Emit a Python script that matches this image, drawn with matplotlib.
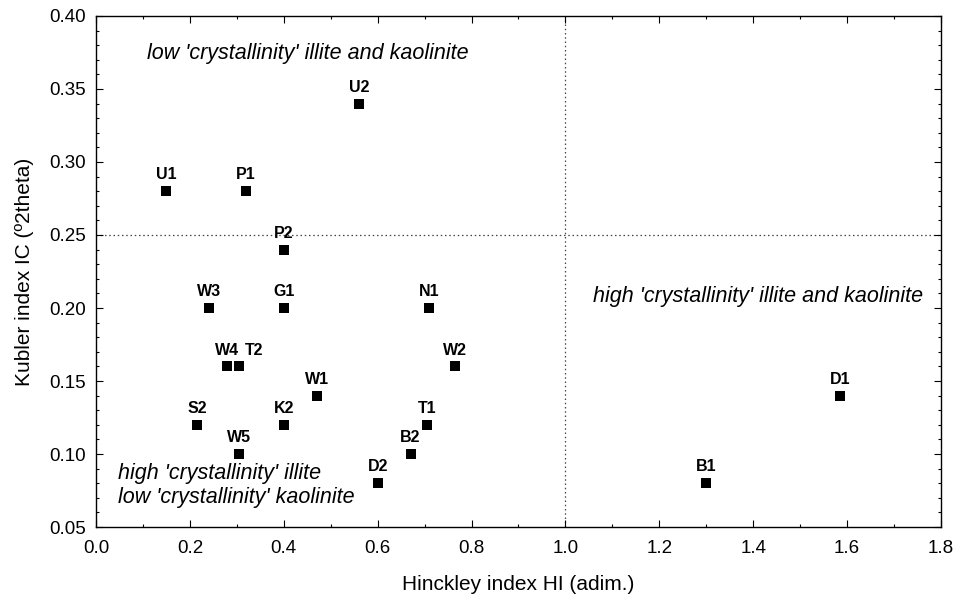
import matplotlib
matplotlib.use("Agg")
import matplotlib.pyplot as plt
from matplotlib.ticker import MultipleLocator

plt.rcParams['font.family'] = ['Liberation Sans', 'DejaVu Sans']

# sample names and indices
samples = ['U1', 'P1', 'U2', 'P2', 'W3', 'G1', 'N1', 'W4', 'T2', 'W2',
           'W1', 'S2', 'K2', 'T1', 'W5', 'B2', 'D2', 'B1', 'D1']
hi = [0.15, 0.32, 0.56, 0.40, 0.24, 0.40, 0.71, 0.28, 0.305, 0.765,
      0.47, 0.215, 0.40, 0.705, 0.305, 0.67, 0.60, 1.30, 1.585]
ic = [0.28, 0.28, 0.34, 0.24, 0.20, 0.20, 0.20, 0.16, 0.16, 0.16,
      0.14, 0.12, 0.12, 0.12, 0.10, 0.10, 0.08, 0.08, 0.14]

hi_limit = 1.0
ic_limit = 0.25

fig = plt.figure(figsize=(9.59, 6.01), dpi=100)
ax = fig.add_axes([0.1001, 0.1231, 0.8811, 0.8503])

ax.scatter(hi, ic, marker='s', s=48, color='black', zorder=3, linewidths=0)

for name, x, y in zip(samples, hi, ic):
    dx = 11 if name == 'T2' else 0   # T2 label sits to the right of W4
    ax.annotate(name, (x, y), xytext=(dx, 8.5), textcoords='offset points',
                ha='center', va='baseline', fontsize=11.5, fontweight='bold')

####limit lines##############
ax.axvline(hi_limit, color='#444444', lw=0.9, ls=(0, (1.2, 2.2)), zorder=1)
ax.axhline(ic_limit, color='#444444', lw=0.9, ls=(0, (1.2, 2.2)), zorder=1)

####field names##############
ax.text(0.108, 0.374, "low 'crystallinity' illite and kaolinite",
        style='italic', fontsize=15.5, va='center', ha='left')
ax.text(1.058, 0.208, "high 'crystallinity' illite and kaolinite",
        style='italic', fontsize=15.5, va='center', ha='left')
ax.text(0.047, 0.0785, "high 'crystallinity' illite\nlow 'crystallinity' kaolinite",
        style='italic', fontsize=15.5, va='center', ha='left', linespacing=1.22)

ax.set_xlim(0.0, 1.8)
ax.set_ylim(0.05, 0.40)
ax.xaxis.set_major_locator(MultipleLocator(0.2))
ax.xaxis.set_minor_locator(MultipleLocator(0.1))
ax.yaxis.set_major_locator(MultipleLocator(0.05))
ax.yaxis.set_minor_locator(MultipleLocator(0.01))
ax.xaxis.set_major_formatter(plt.FormatStrFormatter('%.1f'))
ax.yaxis.set_major_formatter(plt.FormatStrFormatter('%.2f'))
ax.tick_params(which='both', direction='in', top=True, right=True,
               labelsize=13.5, width=0.8)
ax.tick_params(which='major', length=5)
ax.tick_params(which='minor', length=2.5)
ax.tick_params(axis='x', pad=9)
ax.tick_params(axis='y', pad=7)

for sp in ax.spines.values():
    sp.set_linewidth(1.0)

ax.set_xlabel('Hinckley index HI (adim.)', fontsize=15, labelpad=13)
ax.set_ylabel('Kubler index IC (º2theta)', fontsize=15, labelpad=11)

fig.savefig('out.png', dpi=100)
